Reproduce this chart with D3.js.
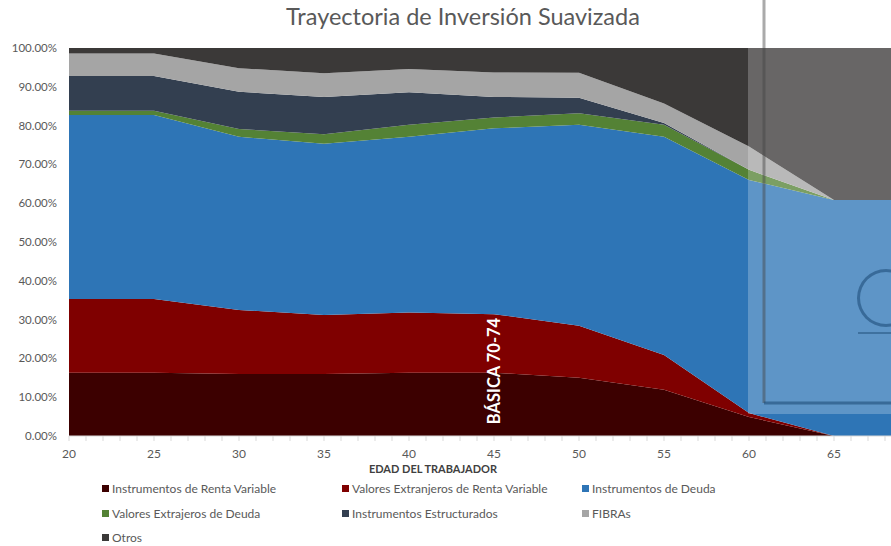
<!DOCTYPE html>
<html>
<head>
<meta charset="utf-8">
<script src="https://cdn.jsdelivr.net/npm/d3@7"></script>
<style>
  body { margin: 0; background: #fff; }
  svg text { font-family: Lato, "Open Sans", sans-serif; }
</style>
</head>
<body>
<svg id="chart" width="891" height="546"></svg>
<script>
// Trayectoria de inversión suavizada - stacked areas by age

var ages = [20, 25, 30, 35, 40, 45, 50, 55, 60, 65, 70];
var rentaVariable   = [16.3, 16.3, 16.0, 16.0, 16.3, 16.3, 15.0, 11.9, 4.9, 0, 0];
var extRentaVar     = [19.0, 19.0, 16.5, 15.2, 15.5, 15.1, 13.4, 9.0, 1.0, 0, 0];
var deuda           = [47.4, 47.4, 44.6, 44.1, 45.3, 47.9, 51.8, 56.2, 60.1, 60.8, 60.8];
var extDeuda        = [1.1, 1.1, 2.0, 2.5, 3.1, 2.8, 3.0, 3.1, 2.6, 0, 0];
var estructurados   = [9.0, 9.0, 9.6, 9.6, 8.4, 5.3, 4.0, 0.5, 0, 0, 0];
var fibras          = [5.8, 5.8, 6.1, 6.1, 6.0, 6.3, 6.4, 5.0, 6.0, 0, 0];

var seriesNames = ["Instrumentos de Renta Variable", "Valores Extranjeros de Renta Variable",
  "Instrumentos de Deuda", "Valores Extrajeros de Deuda", "Instrumentos Estructurados",
  "FIBRAs", "Otros"];
var colors = ["#3c0000", "#7f0000", "#2e75b6", "#548235", "#333f50", "#a5a5a5", "#3b3938"];
var yTicks = [0, 10, 20, 30, 40, 50, 60, 70, 80, 90, 100];
var xTicks = [20, 25, 30, 35, 40, 45, 50, 55, 60, 65];

var rows = ages.map(function(a, i) {
  var r = { age: a };
  r[seriesNames[0]] = rentaVariable[i];
  r[seriesNames[1]] = extRentaVar[i];
  r[seriesNames[2]] = deuda[i];
  r[seriesNames[3]] = extDeuda[i];
  r[seriesNames[4]] = estructurados[i];
  r[seriesNames[5]] = fibras[i];
  var sum = rentaVariable[i] + extRentaVar[i] + deuda[i] + extDeuda[i] + estructurados[i] + fibras[i];
  r[seriesNames[6]] = 100 - sum;
  return r;
});

var svg = d3.select("#chart");
var x = d3.scaleLinear().domain([20, 70]).range([69, 919]);
var y = d3.scaleLinear().domain([0, 100]).range([436, 48]);

var stack = d3.stack().keys(seriesNames);
var layers = stack(rows);

var area = d3.area()
  .x(function(d) { return x(d.data.age); })
  .y0(function(d) { return y(d[0]); })
  .y1(function(d) { return y(d[1]); });

svg.append("g").selectAll("path")
  .data(layers)
  .enter().append("path")
  .attr("d", area)
  .style("fill", function(d, i) { return colors[i]; });

// x axis
var xAxis = svg.append("g").attr("transform", "translate(0,436)");
xAxis.append("line").attr("x1", 69).attr("x2", 891).attr("y1", 0).attr("y2", 0)
  .style("stroke", "#d9d9d9");
xAxis.selectAll("line.tick")
  .data(d3.range(20, 71))
  .enter().append("line")
  .attr("class", "tick")
  .attr("x1", function(d) { return x(d); })
  .attr("x2", function(d) { return x(d); })
  .attr("y1", 0).attr("y2", 5)
  .style("stroke", "#d9d9d9");
xAxis.selectAll("text")
  .data(xTicks)
  .enter().append("text")
  .attr("x", function(d) { return x(d); })
  .attr("y", 22)
  .attr("text-anchor", "middle")
  .style("font-size", "12px")
  .style("fill", "#595959")
  .text(function(d) { return d; });

// y axis labels
svg.append("g").selectAll("text")
  .data(yTicks)
  .enter().append("text")
  .attr("x", 57)
  .attr("y", function(d) { return y(d) + 4; })
  .attr("text-anchor", "end")
  .style("font-size", "11.5px")
  .style("fill", "#595959")
  .text(function(d) { return d.toFixed(2) + "%"; });

// annotation
svg.append("text")
  .attr("transform", "translate(500,371) rotate(-90)")
  .attr("text-anchor", "middle")
  .style("font-size", "16.5px")
  .style("font-weight", "bold")
  .style("fill", "#ffffff")
  .text("BÁSICA 70-74");

// title
svg.append("text")
  .attr("x", 463).attr("y", 25)
  .attr("text-anchor", "middle")
  .style("font-size", "23.5px")
  .style("fill", "#595959")
  .text("Trayectoria de Inversión Suavizada");

svg.append("text")
  .attr("x", 433).attr("y", 473)
  .attr("text-anchor", "middle")
  .style("font-size", "11px")
  .style("font-weight", "bold")
  .style("fill", "#404040")
  .text("EDAD DEL TRABAJADOR");

// legend
var legendX = [102, 342, 582];
var legendY = [489, 514, 538];
var legend = svg.append("g").selectAll("g")
  .data(seriesNames)
  .enter().append("g")
  .attr("transform", function(d, i) {
    return "translate(" + legendX[i % 3] + "," + legendY[Math.floor(i / 3)] + ")";
  });
legend.append("rect")
  .attr("x", 0).attr("y", -4)
  .attr("width", 7).attr("height", 7)
  .style("fill", function(d, i) { return colors[i]; });
legend.append("text")
  .attr("x", 10).attr("y", 4)
  .style("font-size", "12px")
  .style("fill", "#595959")
  .text(function(d) { return d; });

// pasted watermark overlay on the right side
var wm = svg.append("g");
wm.append("rect").attr("x", 748).attr("y", 48).attr("width", 143).attr("height", 366)
  .style("fill", "#ffffff").style("opacity", 0.23);
wm.append("line").attr("x1", 764).attr("x2", 764).attr("y1", 0).attr("y2", 403)
  .style("stroke", "#444").style("stroke-width", 3).style("opacity", 0.45);
wm.append("line").attr("x1", 764).attr("x2", 891).attr("y1", 403).attr("y2", 403)
  .style("stroke", "#1f4e79").style("stroke-width", 3).style("opacity", 0.6);
wm.append("path")
  .attr("transform", "translate(886,298)")
  .attr("d", d3.arc().innerRadius(26).outerRadius(29)
    .startAngle(Math.PI * 0.75).endAngle(Math.PI * 2.25)())
  .style("fill", "#1f4e79").style("opacity", 0.6);
wm.append("line").attr("x1", 858).attr("x2", 891).attr("y1", 333).attr("y2", 333)
  .style("stroke", "#1f4e79").style("stroke-width", 2).style("opacity", 0.5);
</script>
</body>
</html>
